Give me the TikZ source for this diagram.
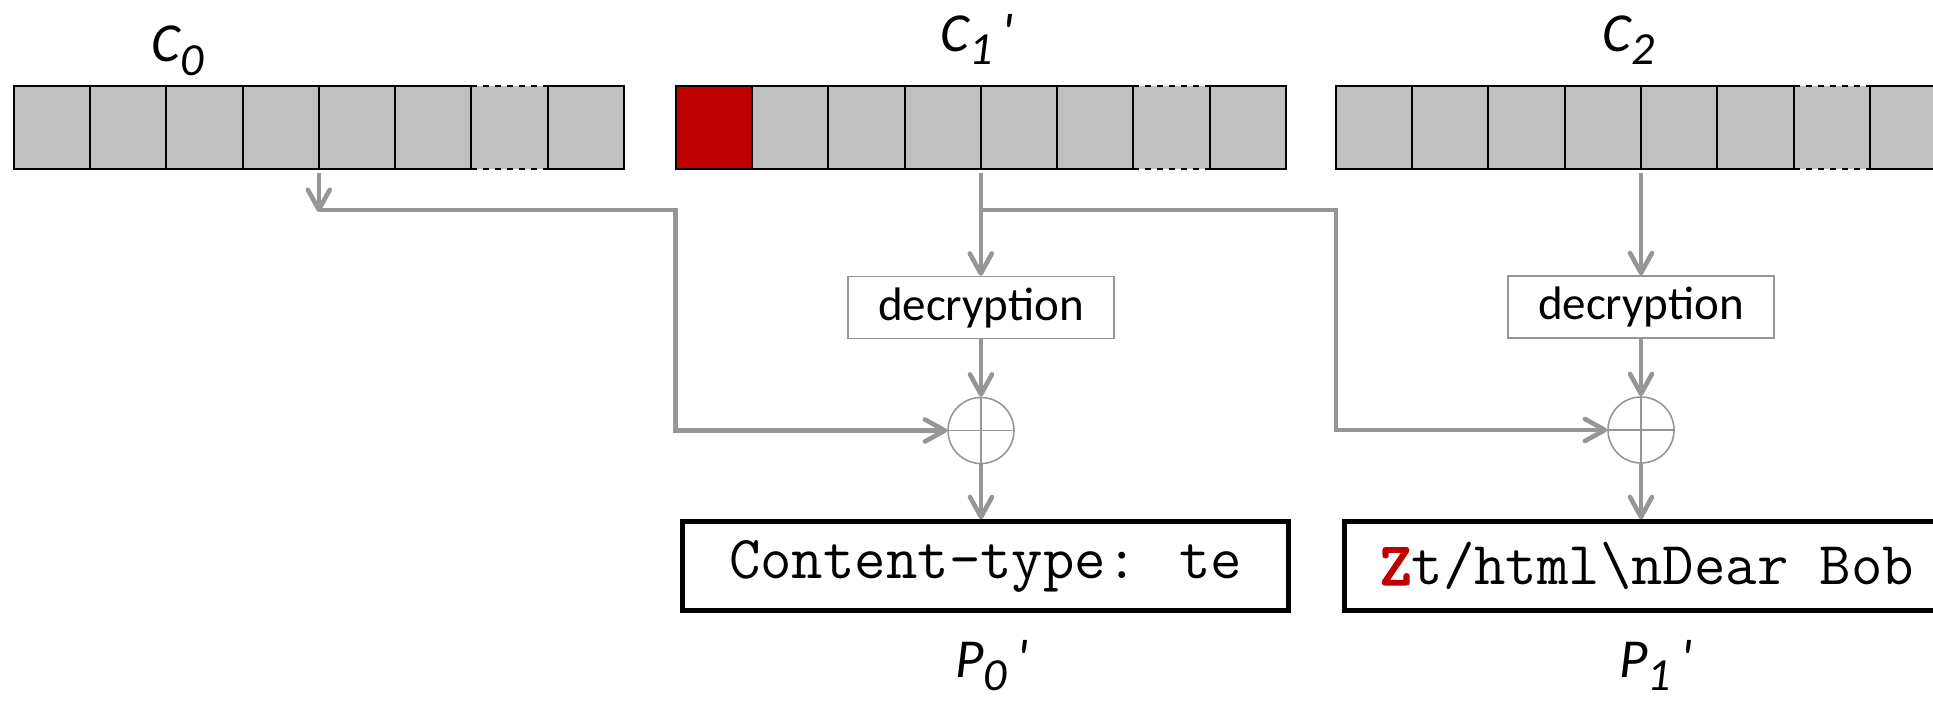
\documentclass[tikz,border=0pt]{standalone}
\usepackage{fontspec}
\setmainfont{Carlito}
\newfontfamily\zfont{lmmonolt10-bold.otf}[FakeBold=2]
\definecolor{cellgray}{RGB}{192,192,192}
\definecolor{cellred}{RGB}{192,0,0}
\definecolor{linegray}{RGB}{150,150,150}
\usetikzlibrary{arrows.meta,positioning,calc}
\newcommand\lowsub[1]{\raisebox{-6.5pt}{\fontsize{23}{23}\selectfont #1}}

\tikzset{
  cell/.style={draw=black,line width=1pt,fill=cellgray,minimum width=38.15pt,
    minimum height=41.5pt,inner sep=0pt,outer sep=0pt,anchor=north west},
  gapcell/.style={cell,draw=none},
  blocklabel/.style={font=\fontsize{27.5}{27.5}\selectfont\itshape,inner sep=0pt,anchor=base west},
  decbox/.style={draw=linegray,line width=0.7pt,minimum width=133pt,minimum height=31pt,
    font=\fontsize{23.5}{23.5}\selectfont},
  xorsum/.style={circle,draw=linegray,line width=0.8pt,minimum size=33pt,inner sep=0pt,
    path picture={\draw[linegray,line width=0.8pt]
      (path picture bounding box.north) -- (path picture bounding box.south)
      (path picture bounding box.west) -- (path picture bounding box.east);}},
  plainbox/.style={draw=black,line width=2.5pt,minimum width=302.8pt,minimum height=44.5pt,
    inner sep=0pt,font=\ttfamily\fontsize{30.5}{30.5}\selectfont},
  flow/.style={linegray,line width=2.3pt,-{Straight Barb[length=10pt,width=11pt,round]}}
}

\begin{document}
\begin{tikzpicture}[x=0.5pt,y=-0.5pt]
\useasboundingbox (0,0) rectangle (1933,701);
\clip (0,0) rectangle (1933,701);
\foreach \name/\x/\first in {c0/13.6/cellgray,c1/675.6/cellred,c2/1335.8/cellgray}{
  \node[gapcell] (\name-7) at ({\x+6*76.3},86) {};
  \node[cell,fill=\first] (\name-1) at (\x,86) {};
  \foreach \i in {2,...,6,8}
    \node[cell] (\name-\i) at ({\x+(\i-1)*76.3},86) {};
  \draw[line width=1pt,dashed] (\name-7.north west) -- (\name-7.north east)
    (\name-7.south west) -- (\name-7.south east);
}
\node[blocklabel] (lc0) at (151,62) {C\lowsub{0}};
\node[blocklabel] (lc1) at (940,52) {C\lowsub{1}\,\textquotesingle};
\node[blocklabel] (lc2) at (1602,52) {C\lowsub{2}};

\node[decbox] (dec1) at (981,307.5) {decryption};
\node[decbox] (dec2) at (1641,307) {decryption};
\node[xorsum] (xor1) at (981,430.5) {};
\node[xorsum] (xor2) at (1641,430) {};

\node[plainbox] (p0) at (985.7,566.3) {Content-type: te};
\node[plainbox] (p1) at (1646.9,566.3) {\textcolor{cellred}{\zfont Z}t/html\textbackslash nDear Bob};
\node[blocklabel] (lp0) at (955,677) {P\lowsub{0}\,\textquotesingle};
\node[blocklabel] (lp1) at (1619,677) {P\lowsub{1}\,\textquotesingle};

\coordinate (rail) at (0,210);
\coordinate (j0) at (c0-4.south east |- rail);
\coordinate (j1) at (c1-4.south east |- rail);
\draw[flow,shorten <=2pt] (c0-4.south east) -- ([yshift=-1pt]j0);
\draw[flow] (j0) -- (j0 -| c1-1.south west) |- (xor1.west);
\draw[flow,shorten <=2pt] (c1-4.south east) -- (c1-4.south east |- dec1.north);
\draw[flow] (j1) -- (j1 -| c2-1.south west) |- (xor2.west);
\draw[flow,shorten <=2pt] (c2-4.south east) -- (dec2);
\draw[flow] (dec1) -- (xor1);
\draw[flow] (dec2) -- (xor2);
\draw[flow] (xor1) -- (xor1 |- p0.north);
\draw[flow] (xor2) -- (xor2 |- p1.north);
\end{tikzpicture}
\end{document}
